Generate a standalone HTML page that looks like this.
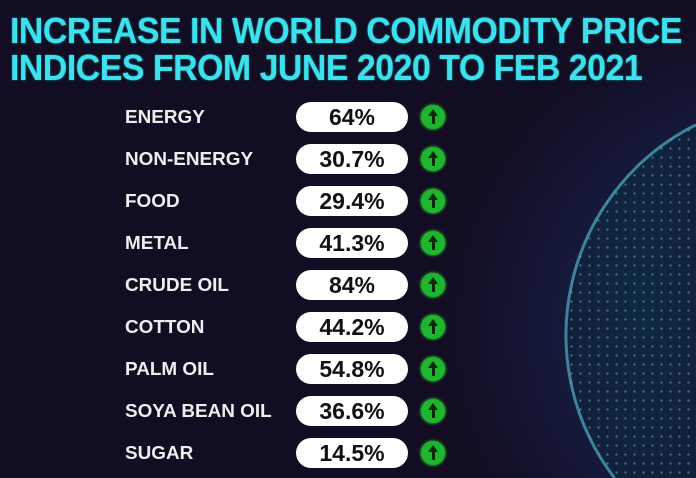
<!DOCTYPE html>
<html><head><style>
html,body{margin:0;width:696px;height:478px;overflow:hidden}
body{background:#120d22;font-family:"Liberation Sans",Arial,sans-serif}
.wrap{position:relative;width:696px;height:478px;overflow:hidden}
.bg{position:absolute;left:0;top:0;width:696px;height:478px;background:radial-gradient(circle at 760px 330px,#1a2a4a 0,#15193a 200px,#120d22 320px)}
svg{position:absolute;left:0;top:0}
.t{position:absolute;left:10px;color:#3fe0ee;font-weight:bold;font-size:36px;letter-spacing:-0.5px;transform:scaleX(.94);transform-origin:left;white-space:nowrap;text-shadow:0 0 2px #0aa;line-height:36px}
.lab{position:absolute;left:125px;color:#eee;font-weight:bold;font-size:18px;white-space:nowrap;transform:scaleX(1.05);transform-origin:left}
.pill{position:absolute;left:296px;width:112px;height:30px;border-radius:15px;background:#fff;color:#111;font-weight:bold;font-size:23px;text-align:center;line-height:30px}
.up{position:absolute;left:421px;width:24px;height:24px;border-radius:50%;background:#1fb52e;box-shadow:0 0 3px #3f3}
.up:before{content:"";position:absolute;left:7px;top:4px;border-left:5px solid transparent;border-right:5px solid transparent;border-bottom:7px solid #0a2a0a}
.up:after{content:"";position:absolute;left:10.5px;top:10px;width:3px;height:9px;background:#0a2a0a}
</style></head><body><div class="wrap">
<div class="bg"></div>
<svg width="696" height="478" viewBox="0 0 696 478">
<defs>
<pattern id="d" width="9" height="9" patternUnits="userSpaceOnUse"><circle cx="4.5" cy="4.5" r="1.1" fill="rgba(150,200,230,.5)"/></pattern>
<radialGradient id="g" cx="0.6" cy="0.5" r="0.6"><stop offset="0" stop-color="#0f2a40"/><stop offset="1" stop-color="#10203a"/></radialGradient>
</defs>
<path d="M696,124.8 A235,235 0 0,0 614.5,478 L696,478 Z" fill="url(#g)"/>
<path d="M696,124.8 A235,235 0 0,0 614.5,478 L696,478 Z" fill="url(#d)"/>
<path d="M696,124.8 A235,235 0 0,0 614.5,478" fill="none" stroke="#5cc8e0" stroke-opacity=".6" stroke-width="3"/>
</svg>
<div class="t" style="top:13px">INCREASE IN WORLD COMMODITY PRICE</div>
<div class="t" style="top:50px">INDICES FROM JUNE 2020 TO FEB 2021</div>

<div class="lab" style="top:107px">ENERGY</div><div class="pill" style="top:102px">64%</div><div class="up" style="top:105px"></div>
<div class="lab" style="top:149px">NON-ENERGY</div><div class="pill" style="top:144px">30.7%</div><div class="up" style="top:147px"></div>
<div class="lab" style="top:191px">FOOD</div><div class="pill" style="top:186px">29.4%</div><div class="up" style="top:189px"></div>
<div class="lab" style="top:233px">METAL</div><div class="pill" style="top:228px">41.3%</div><div class="up" style="top:231px"></div>
<div class="lab" style="top:275px">CRUDE OIL</div><div class="pill" style="top:270px">84%</div><div class="up" style="top:273px"></div>
<div class="lab" style="top:317px">COTTON</div><div class="pill" style="top:312px">44.2%</div><div class="up" style="top:315px"></div>
<div class="lab" style="top:359px">PALM OIL</div><div class="pill" style="top:354px">54.8%</div><div class="up" style="top:357px"></div>
<div class="lab" style="top:401px">SOYA BEAN OIL</div><div class="pill" style="top:396px">36.6%</div><div class="up" style="top:399px"></div>
<div class="lab" style="top:443px">SUGAR</div><div class="pill" style="top:438px">14.5%</div><div class="up" style="top:441px"></div>
</div></body></html>
